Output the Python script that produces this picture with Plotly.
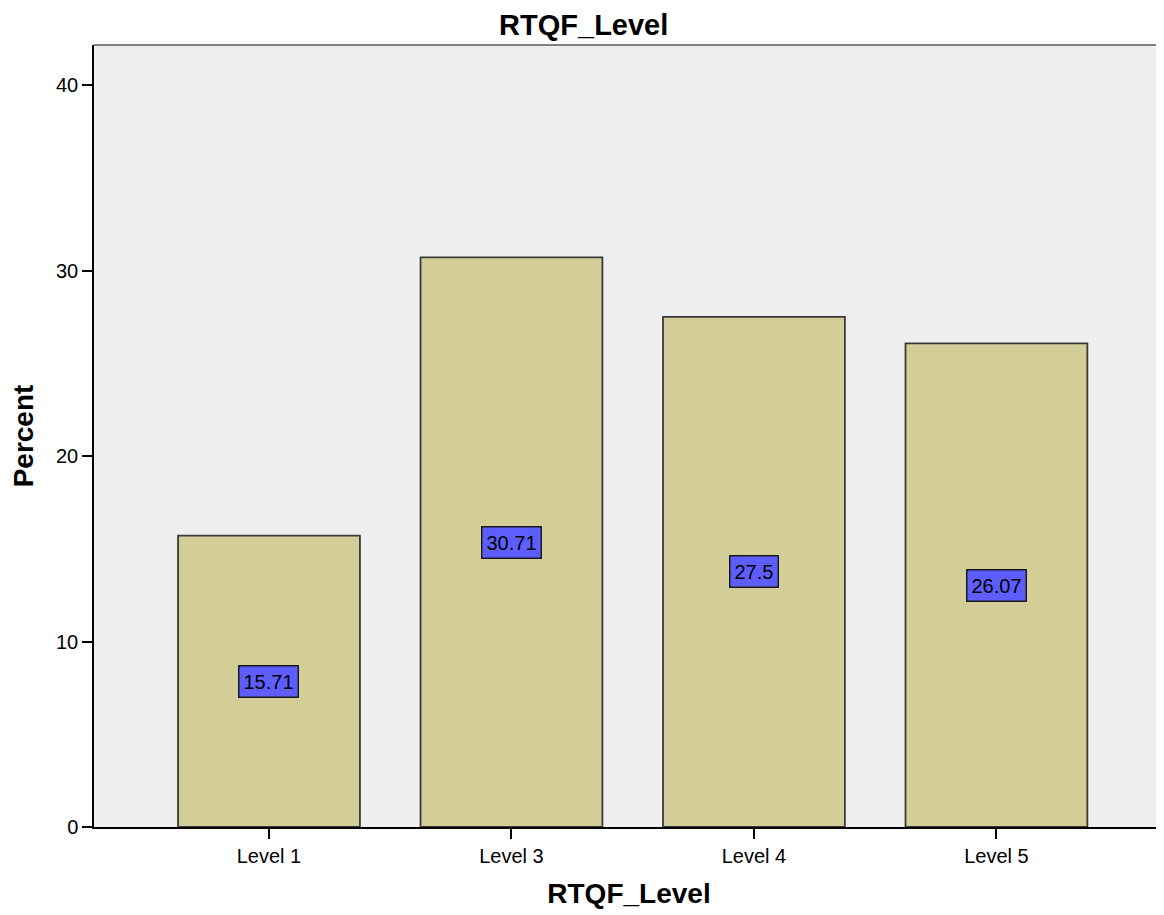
import plotly.graph_objects as go

categories = ["Level 1", "Level 3", "Level 4", "Level 5"]
percents = [15.71, 30.71, 27.5, 26.07]
labels = ["15.71", "30.71", "27.5", "26.07"]
y_ticks = [0, 10, 20, 30, 40]

FONT = "Liberation Sans, Arial"

fig = go.Figure()
fig.add_trace(go.Bar(
    x=categories, y=percents,
    width=0.75,
    marker=dict(color="#d3ce97", line=dict(color="#3a3a3a", width=1.8)),
    hoverinfo="x+y",
))

for c, v, t in zip(categories, percents, labels):
    fig.add_annotation(
        x=c, y=v / 2, text=t, showarrow=False,
        font=dict(family=FONT, size=20, color="#000000"),
        bgcolor="#5e5eff", bordercolor="#1a1a1a", borderwidth=1.5, borderpad=4,
    )

fig.update_layout(
    width=1156, height=907,
    paper_bgcolor="white", plot_bgcolor="#efefef",
    margin=dict(l=86, r=0, t=37, b=88),
    title=dict(text="<b>RTQF_Level</b>", x=0.498, xref="container", xanchor="center",
               y=0.9815, yanchor="middle",
               font=dict(family=FONT, size=29, color="#000")),
    font=dict(family=FONT, color="#000"),
    showlegend=False,
)
fig.update_xaxes(
    range=[-0.7216, 3.691],
    showline=True, linecolor="#000", linewidth=1.5,
    ticks="outside", ticklen=10, tickcolor="#000", tickwidth=1.5,
    tickfont=dict(size=20),
    title=dict(text="<b>RTQF_Level</b>", font=dict(size=28), standoff=18),
    showgrid=False, mirror=False,
)
fig.update_yaxes(
    range=[0, 42.16],
    tickvals=y_ticks,
    showline=True, linecolor="#000", linewidth=1.5,
    ticks="outside", ticklen=10, tickcolor="#000", tickwidth=1.5,
    tickfont=dict(size=20),
    title=dict(text="<b>Percent</b>", font=dict(size=28), standoff=16),
    showgrid=False, zeroline=False,
)
# top frame line
fig.add_shape(type="line", xref="paper", yref="paper", x0=0, x1=1, y0=1, y1=1,
              line=dict(color="#808080", width=2))

fig.write_html("out.html")
